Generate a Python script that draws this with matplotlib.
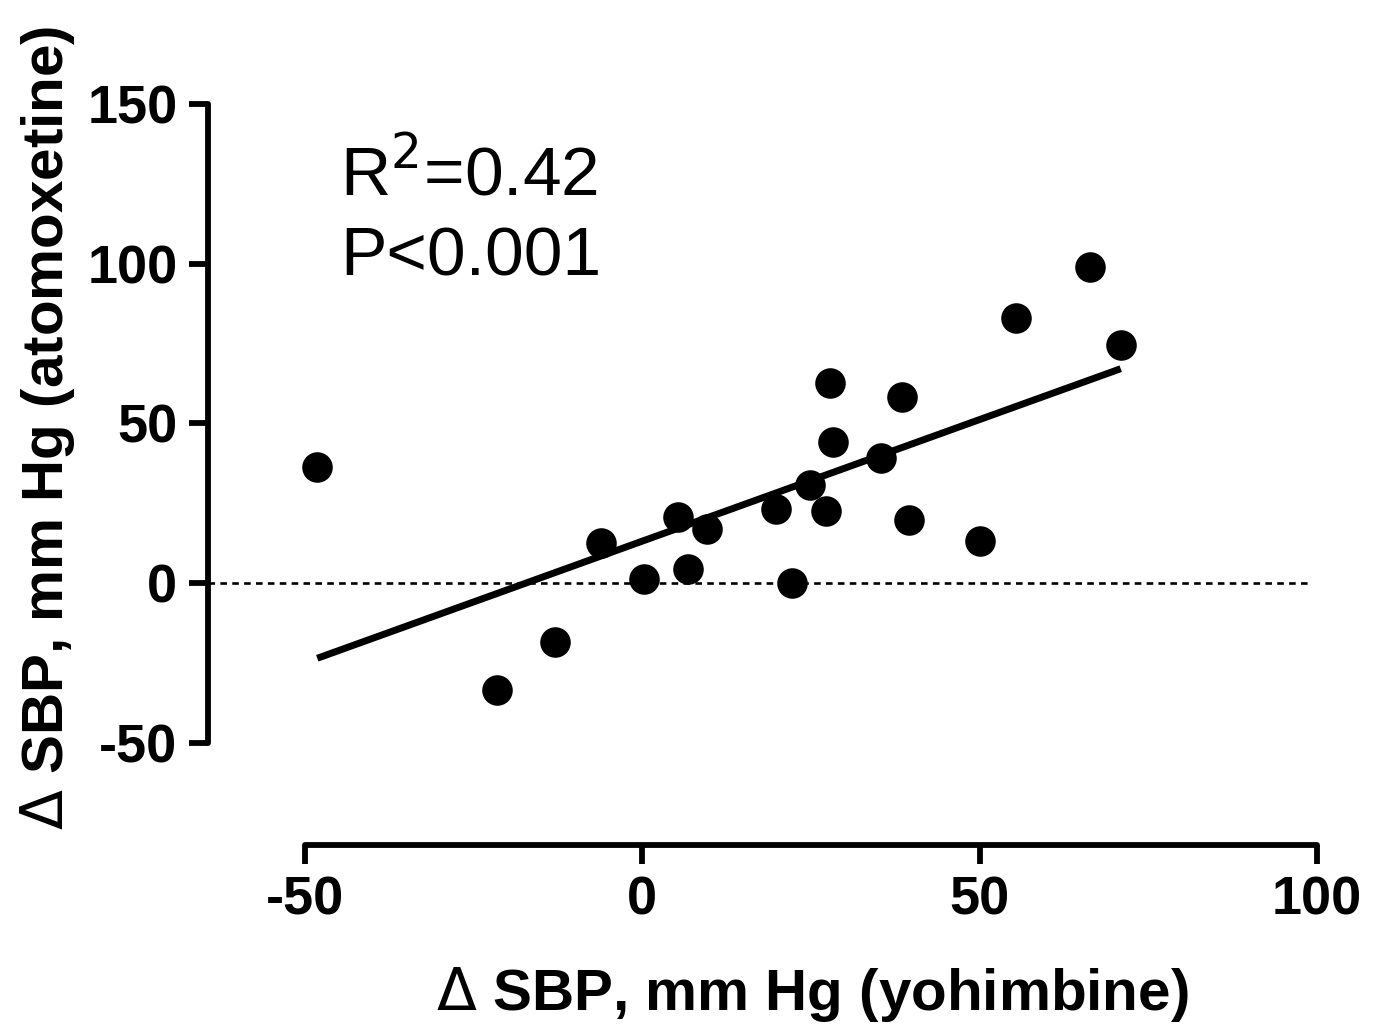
import numpy as np
import matplotlib
matplotlib.use("Agg")
import matplotlib.pyplot as plt

# Data
yohimbine = [-48.2, -21.6, -13.0, -6.2, 0.2, 5.2, 6.7, 9.6, 19.8, 22.2, 24.9,
             27.2, 27.8, 28.3, 35.4, 38.5, 39.5, 50.0, 55.4, 66.3, 70.9]
atomoxetine = [36.3, -33.5, -18.6, 12.6, 1.3, 20.8, 4.4, 17.0, 23.1, -0.1, 30.6,
               22.7, 62.6, 44.3, 39.3, 58.2, 19.7, 13.1, 83.1, 99.0, 74.5]
x_ticks = [-50, 0, 50, 100]
y_ticks = [-50, 0, 50, 100, 150]
stats_lines = ["R$^2$=0.42", "P<0.001"]

plt.rcParams['font.family'] = ['Liberation Sans', 'DejaVu Sans']

fig = plt.figure(figsize=(13.78, 10.30), dpi=100)
ax = fig.add_axes([208/1378, (1030-845)/1030, 1136/1378, 747/1030])

x = np.array(yohimbine)
y = np.array(atomoxetine)

ax.set_xlim(-64.4, 104)
ax.set_ylim(-82.1, 152)

# zero reference line
ax.plot([-64.4, 99], [0, 0], color='black', lw=1.9, ls=(0, (2.5, 2.0)), zorder=1)

# regression line
slope, intercept = np.polyfit(x, y, 1)
xf = np.array([x.min(), x.max()])
ax.plot(xf, slope * xf + intercept, color='black', lw=5.0, solid_capstyle='butt', zorder=2)

# points
ax.plot(x, y, 'o', color='black', markersize=22, markeredgewidth=0, zorder=3)

for side in ['top', 'right']:
    ax.spines[side].set_visible(False)
for side in ['left', 'bottom']:
    ax.spines[side].set_linewidth(4.2)
    ax.spines[side].set_capstyle('round')
ax.spines['left'].set_bounds(-50, 150)
ax.spines['bottom'].set_bounds(-50, 100)

ax.set_xticks(x_ticks)
ax.set_yticks(y_ticks)
ax.set_xticklabels([str(t) for t in x_ticks])
ax.set_yticklabels([str(t) for t in y_ticks])
ax.tick_params(axis='both', direction='out', length=14, width=4.2, labelsize=39, pad=8)
for lab in ax.get_xticklabels() + ax.get_yticklabels():
    lab.set_fontweight('bold')

fig.text(812/1378, 1 - 995/1030, r"$\Delta$ SBP, mm Hg (yohimbine)", ha='center', va='center',
         fontsize=42, fontweight='bold')
fig.text(48/1378, 1 - 428/1030, r"$\Delta$ SBP, mm Hg (atomoxetine)", ha='center', va='center',
         fontsize=42, fontweight='bold', rotation=90)

ax.text(340/1378, 1 - 195/1030, stats_lines[0], transform=fig.transFigure, fontsize=50,
        ha='left', va='baseline')
ax.text(340/1378, 1 - 275/1030, stats_lines[1], transform=fig.transFigure, fontsize=50,
        ha='left', va='baseline')

fig.savefig("out.png", dpi=100)
